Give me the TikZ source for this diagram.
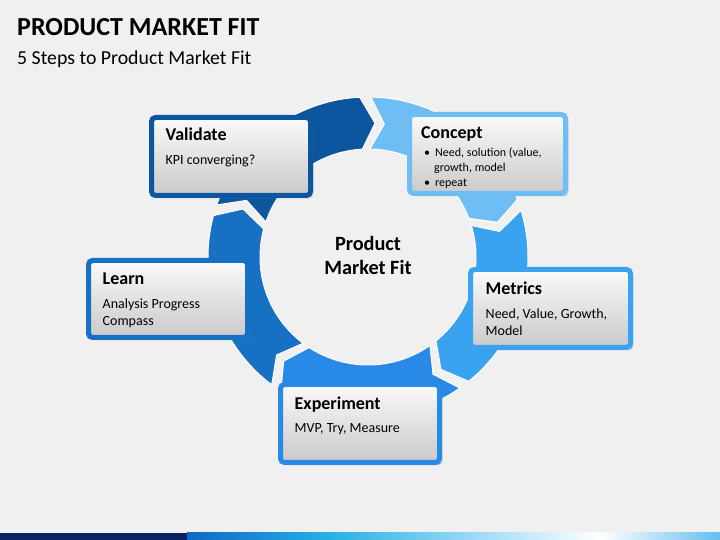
\documentclass[tikz,border=0pt]{standalone}
\usepackage{fontspec}
\setmainfont{Carlito}
\usetikzlibrary{positioning,calc,shadows}
\definecolor{pagegray}{RGB}{240,240,240}
\definecolor{validateblue}{RGB}{12,86,160}
\definecolor{conceptblue}{RGB}{110,190,245}
\definecolor{metricsblue}{RGB}{58,163,240}
\definecolor{experimentblue}{RGB}{40,138,230}
\definecolor{learnblue}{RGB}{22,112,196}
\definecolor{barnavy}{RGB}{10,32,96}
\definecolor{barblue}{RGB}{16,104,196}
\definecolor{barcyan}{RGB}{40,176,232}
\definecolor{barlight}{RGB}{100,190,240}

\begin{document}
\begin{tikzpicture}[x=1pt, y=1pt,
    stepbox/.style={draw=#1, line width=5pt, rounded corners=4pt, top color=black!2, bottom color=black!21,
      minimum width=159pt, minimum height=78pt,
      drop shadow={shadow xshift=3pt, shadow yshift=-3pt, opacity=0.25}},
    head/.style={font=\bfseries\fontsize{18}{21}\selectfont, inner sep=0pt, anchor=base west},
    body/.style={font=\fontsize{14}{17}\selectfont, inner sep=0pt, align=left}]
    % Page
    \fill[pagegray] (0,0) rectangle (720,540);
    \useasboundingbox (0,0) rectangle (720,540);

    % Title
    \node[font=\bfseries\fontsize{26}{31}\selectfont, inner sep=0pt, anchor=base west] (title) at (17,504) {PRODUCT MARKET FIT};
    \node[font=\fontsize{19.8}{24}\selectfont, inner sep=0pt, anchor=base west] (subtitle) at (17,475) {5 Steps to Product Market Fit};

    % Cycle
    \coordinate (c) at (368,283);
    \foreach \a/\col in {161/validateblue, 89/conceptblue, 17/metricsblue, -55/experimentblue, -127/learnblue}
        \filldraw[fill=\col, draw=white, line width=1pt]
            ($(c)+(\a:160)$) arc[start angle=\a, end angle=\a-68, radius=160]
            -- ($(c)+({\a-74}:134)$) -- ($(c)+({\a-68}:108)$)
            arc[start angle=\a-68, end angle=\a, radius=108]
            -- ($(c)+({\a-6}:134)$) -- cycle;
    \node[font=\bfseries\fontsize{20.3}{24}\selectfont, align=center] (pmf) at (368,285) {Product\\Market Fit};

    % Steps
    \node[stepbox=validateblue] (validate) at (231,383.5) {};
    \node[stepbox=conceptblue, minimum width=156pt, minimum height=79pt] (concept) at (487.5,386) {};
    \node[stepbox=learnblue, minimum height=77pt] (learn) at (168,241) {};
    \node[stepbox=metricsblue, minimum width=160pt] (metrics) at (550.5,231.5) {};
    \node[stepbox=experimentblue] (experiment) at (360,116.5) {};

    % Labels
    \node[head] (validate-head) at ($(validate.north west)+(16.5,-26)$) {Validate};
    \node[body, below right=13.5pt and 0pt of validate-head.base west] (validate-text) {KPI converging?};

    \node[head] (concept-head) at ($(concept.north west)+(14,-26.5)$) {Concept};
    \node[body, font=\fontsize{12}{15}\selectfont, below right=9.5pt and 3pt of concept-head.base west] (concept-text)
        {\textbullet\hspace{5pt}Need, solution (value,\\\hspace*{10pt}growth, model\\\textbullet\hspace{5pt}repeat};

    \node[head] (learn-head) at ($(learn.north west)+(16.5,-27)$) {Learn};
    \node[body, below right=13.5pt and 0pt of learn-head.base west] (learn-text) {Analysis Progress\\Compass};

    \node[head] (metrics-head) at ($(metrics.north west)+(17.5,-28)$) {Metrics};
    \node[body, below right=13.5pt and 0pt of metrics-head.base west] (metrics-text) {Need, Value, Growth,\\Model};

    \node[head] (experiment-head) at ($(experiment.north west)+(16.5,-27.5)$) {Experiment};
    \node[body, below right=14pt and 0pt of experiment-head.base west] (experiment-text) {MVP, Try, Measure};

    % Bottom bar
    \fill[barnavy] (0,0) rectangle (187,7);
    \shade[left color=barblue, right color=barcyan] (187,0) rectangle (330,7);
    \shade[left color=barcyan, right color=white] (330,0) rectangle (600,7);
    \shade[left color=white, right color=barlight] (600,0) rectangle (720,7);
\end{tikzpicture}
\end{document}
